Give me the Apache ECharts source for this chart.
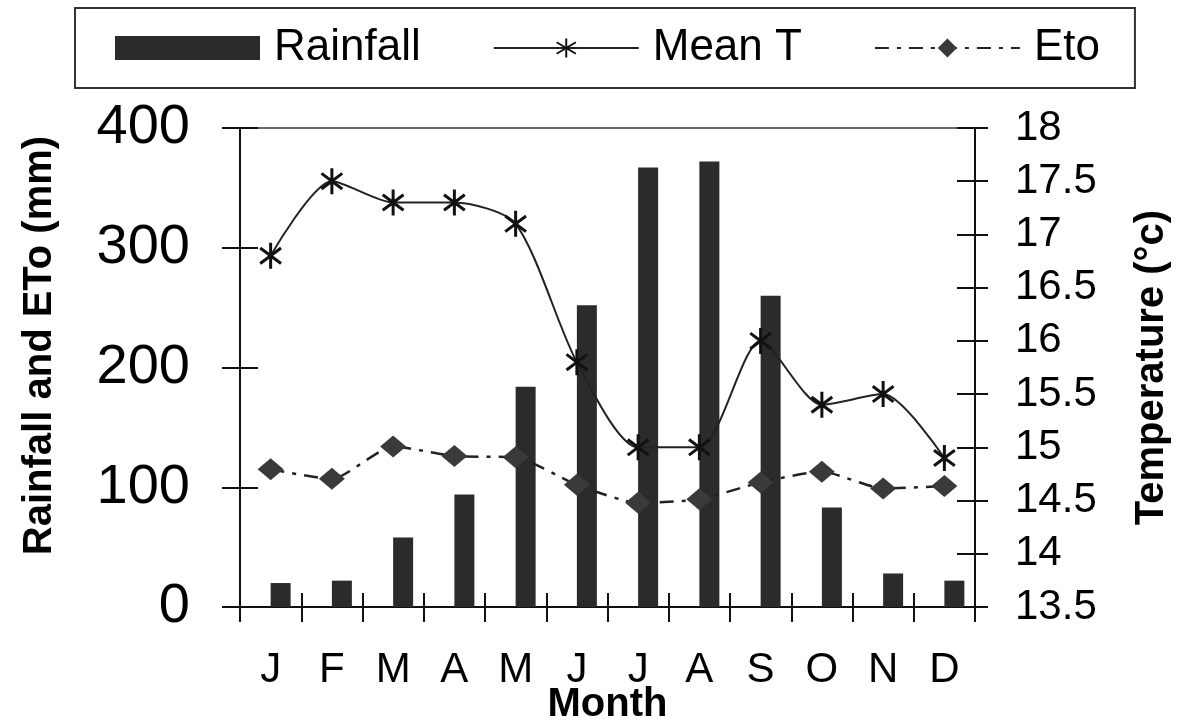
<!DOCTYPE html>
<html><head><meta charset="utf-8">
<script src="https://cdn.jsdelivr.net/npm/echarts@6/dist/echarts.min.js"></script>
<style>html,body{margin:0;padding:0;background:#fff}#c{width:1177px;height:725px}</style>
</head><body><div id="c"></div>
<script>
const months = ['J','F','M','A','M','J','J','A','S','O','N','D'];
const rainfall = [20,22,58,94,184,252,367,372,260,83,28,22];
const meanT = [16.8,17.5,17.3,17.3,17.1,15.8,15.0,15.0,16.0,15.4,15.5,14.9];
const eto = [115,107,134,126,125,102,87,90,104,113,99,101];
const leftScale = {min:0, max:400, interval:100};
const rightScale = {min:13.5, max:18, interval:0.5};

const FONT = 'Arial, "Liberation Sans", sans-serif';
const INK = '#111';
const chart = echarts.init(document.getElementById('c'), null, {renderer:'canvas'});
const asterisk = 'path://M10,0L10,20M2,4L18,16M2,16L18,4';

chart.setOption({
  animation:false,
  backgroundColor:'#fff',
  grid:{left:240, right:202, top:128, bottom:118, containLabel:false, outerBoundsMode:'none'},
  legend:{
    left:75, top:8,
    padding:[18,35,18,40],
    borderColor:'#333', borderWidth:2,
    itemWidth:145, itemHeight:24, itemGap:72,
    textStyle:{fontFamily:FONT, fontSize:44, color:'#000', padding:[0,0,0,9]},
    data:[{name:'Rainfall', icon:'rect'}, 'Mean T', 'Eto']
  },
  xAxis:[
    {type:'category', data:months, position:'bottom',
     name:'Month', nameLocation:'middle', nameGap:78, nameMoveOverlap:false,
     nameTextStyle:{fontFamily:FONT, fontSize:40, fontWeight:'bold', color:'#000'},
     axisLine:{lineStyle:{color:INK, width:2}},
     axisTick:{show:true, length:15, lineStyle:{color:INK, width:2}},
     axisLabel:{fontFamily:FONT, fontSize:42, color:'#000', margin:42},
     splitLine:{show:false}},
    {type:'category', data:months, position:'bottom',
     axisLine:{show:false},
     axisTick:{show:true, inside:true, length:14, lineStyle:{color:INK, width:2}},
     axisLabel:{show:false}, splitLine:{show:false}},
    {type:'category', data:months, position:'top',
     axisLine:{show:true, lineStyle:{color:'#666', width:2}},
     axisTick:{show:false}, axisLabel:{show:false}, splitLine:{show:false}}
  ],
  yAxis:[
    {type:'value', position:'left', min:leftScale.min, max:leftScale.max, interval:leftScale.interval,
     name:'Rainfall and ETo (mm)', nameLocation:'middle', nameGap:180, nameRotate:90,
     nameTextStyle:{fontFamily:FONT, fontSize:40, fontWeight:'bold', color:'#000', padding:[0,0,0,44]},
     axisLine:{show:true, lineStyle:{color:INK, width:2}},
     axisTick:{show:true, length:18, lineStyle:{color:INK, width:2}},
     axisLabel:{fontFamily:FONT, fontSize:56, color:'#000', margin:50},
     splitLine:{show:false}},
    {type:'value', position:'right', min:rightScale.min, max:rightScale.max, interval:rightScale.interval,
     name:'Temperature (°c)', nameLocation:'middle', nameGap:157, nameRotate:90,
     nameTextStyle:{fontFamily:FONT, fontSize:40, fontWeight:'bold', color:'#000'},
     axisLine:{show:true, lineStyle:{color:INK, width:2}},
     axisTick:{show:true, length:13, lineStyle:{color:INK, width:2}},
     axisLabel:{fontFamily:FONT, fontSize:42, color:'#000', margin:40},
     splitLine:{show:false}},
    {type:'value', position:'left', min:leftScale.min, max:leftScale.max, interval:leftScale.interval,
     axisLine:{show:false}, axisTick:{show:true, inside:true, length:18, lineStyle:{color:INK, width:2}},
     axisLabel:{show:false}, splitLine:{show:false}},
    {type:'value', position:'right', min:rightScale.min, max:rightScale.max, interval:rightScale.interval,
     axisLine:{show:false}, axisTick:{show:true, inside:true, length:18, lineStyle:{color:INK, width:2}},
     axisLabel:{show:false}, splitLine:{show:false}}
  ],
  series:[
    {name:'_pad', type:'bar', xAxisIndex:0, yAxisIndex:0, barWidth:20, barGap:'0%',
     data:months.map(()=>null), silent:true},
    {name:'Rainfall', type:'bar', xAxisIndex:0, yAxisIndex:0, barWidth:20, barGap:'0%',
     itemStyle:{color:'#2b2b2b'}, data:rainfall},
    {name:'Eto', type:'line', xAxisIndex:0, yAxisIndex:0, smooth:0.2,
     symbol:'diamond', symbolSize:[26,22],
     itemStyle:{color:'#3a3a3a'},
     lineStyle:{color:'#222', width:2.5, type:[14,8,4,8]},
     data:eto},
    {name:'Mean T', type:'line', xAxisIndex:0, yAxisIndex:1, smooth:0.25,
     symbol:asterisk, symbolSize:26, symbolKeepAspect:true,
     itemStyle:{color:'#111', borderColor:'#111', borderWidth:3},
     lineStyle:{color:'#222', width:2},
     data:meanT}
  ]
});
</script></body></html>
